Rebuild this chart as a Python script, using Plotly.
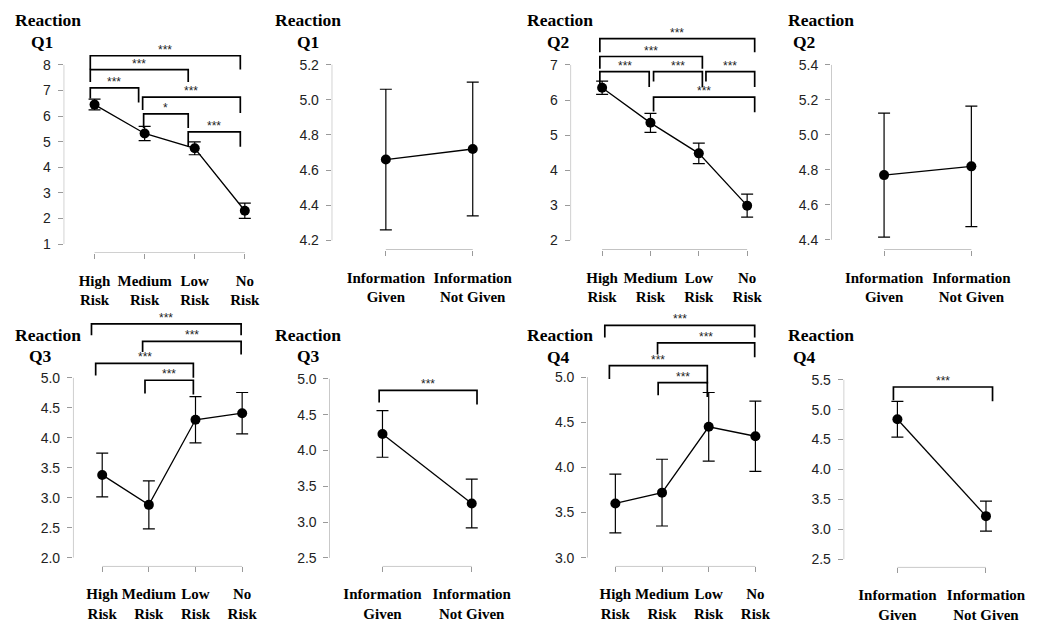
import plotly.graph_objects as go

W, H = 1050, 623

# ---------------- data ----------------
risk_labels = ["High<br>Risk", "Medium<br>Risk", "Low<br>Risk", "No<br>Risk"]
info_labels = ["Information<br>Given", "Information<br>Not Given"]

q1_risk_mean = [6.45, 5.32, 4.74, 2.30]
q1_risk_ci = [0.21, 0.28, 0.25, 0.30]
q1_info_mean = [4.66, 4.72]
q1_info_ci = [0.40, 0.38]

q2_risk_mean = [6.35, 5.35, 4.48, 2.99]
q2_risk_ci = [0.19, 0.27, 0.29, 0.33]
q2_info_mean = [4.77, 4.82]
q2_info_ci = [0.355, 0.345]

q3_risk_mean = [3.38, 2.88, 4.30, 4.41]
q3_risk_ci = [0.365, 0.40, 0.385, 0.345]
q3_info_mean = [4.23, 3.26]
q3_info_ci = [0.325, 0.34]

q4_risk_mean = [3.60, 3.72, 4.45, 4.345]
q4_risk_ci = [0.325, 0.37, 0.38, 0.39]
q4_info_mean = [4.84, 3.22]
q4_info_ci = [0.30, 0.25]

q1_risk_ticks = [1, 2, 3, 4, 5, 6, 7, 8]
q1_info_ticks = [4.2, 4.4, 4.6, 4.8, 5.0, 5.2]
q2_risk_ticks = [2, 3, 4, 5, 6, 7]
q2_info_ticks = [4.4, 4.6, 4.8, 5.0, 5.2, 5.4]
q3_risk_ticks = [2.0, 2.5, 3.0, 3.5, 4.0, 4.5, 5.0]
q3_info_ticks = [2.5, 3.0, 3.5, 4.0, 4.5, 5.0]
q4_risk_ticks = [3.0, 3.5, 4.0, 4.5, 5.0]
q4_info_ticks = [2.5, 3.0, 3.5, 4.0, 4.5, 5.0, 5.5]

# significance brackets: (left end, right end [category units], top, left leg end, right leg end, label)
q1_risk_brackets = [
    (-0.085, 2.91, 8.36, 7.82, 7.82, "***"),
    (-0.085, 1.87, 7.82, 7.33, 7.33, "***"),
    (-0.085, 0.88, 7.10, 6.69, 6.53, "***"),
    (0.96, 2.91, 6.74, 6.24, 6.12, "***"),
    (0.98, 1.87, 6.09, 5.54, 5.54, "*"),
    (1.87, 2.91, 5.38, 4.80, 4.80, "***"),
]
q2_risk_brackets = [
    (-0.047, 3.156, 7.75, 7.36, 7.36, "***"),
    (-0.047, 2.074, 7.24, 6.89, 6.89, "***"),
    (-0.047, 0.974, 6.81, 6.37, 6.37, "***"),
    (1.064, 2.074, 6.81, 6.53, 6.37, "***"),
    (2.148, 3.156, 6.81, 6.53, 6.37, "***"),
    (1.064, 3.156, 6.08, 5.67, 5.65, "***"),
]
q3_risk_brackets = [
    (-0.23, 2.978, 5.90, 5.71, 5.71, "***"),
    (0.866, 2.978, 5.61, 5.43, 5.39, "***"),
    (-0.14, 1.954, 5.24, 5.04, 5.00, "***"),
    (0.917, 1.954, 4.96, 4.74, 4.72, "***"),
]
q3_info_brackets = [(-0.037, 1.059, 4.84, 4.67, 4.64, "***")]
q4_risk_brackets = [
    (-0.226, 2.985, 5.574, 5.44, 5.44, "***"),
    (0.904, 2.985, 5.38, 5.25, 5.22, "***"),
    (-0.128, 1.97, 5.127, 4.98, 4.93, "***"),
    (0.917, 1.97, 4.94, 4.80, 4.78, "***"),
]
q4_info_brackets = [(-0.045, 1.074, 5.38, 5.16, 5.14, "***")]

# ---------------- layout of panels (pixels) ----------------
# box = (left, right, top, bottom); cal = (first category px, category spacing px,
#        px of top tick, px of bottom tick); title = (Reaction x, y, Q x, y)
panels = [
    dict(q="Q1", cats=risk_labels, mean=q1_risk_mean, ci=q1_risk_ci, ticks=q1_risk_ticks, fmt="{:.0f}",
         br=q1_risk_brackets, box=(64, 268, 40, 257), cal=(95, 50.33, 66, 248), title=(48.5, 20, 42.5, 43)),
    dict(q="Q1", cats=info_labels, mean=q1_info_mean, ci=q1_info_ci, ticks=q1_info_ticks, fmt="{:.1f}",
         br=[], box=(333.3, 510, 55, 254), cal=(387.7, 87.3, 65.7, 244.3), title=(309.7, 20, 309, 43)),
    dict(q="Q2", cats=risk_labels, mean=q2_risk_mean, ci=q2_risk_ci, ticks=q2_risk_ticks, fmt="{:.0f}",
         br=q2_risk_brackets, box=(573.3, 775, 25, 254), cal=(605, 48.57, 66, 244.3), title=(563, 20, 561, 43)),
    dict(q="Q2", cats=info_labels, mean=q2_info_mean, ci=q2_info_ci, ticks=q2_info_ticks, fmt="{:.1f}",
         br=[], box=(835, 1030, 55, 254), cal=(888.3, 87.7, 66, 243.7), title=(825, 20, 808, 43)),
    dict(q="Q3", cats=risk_labels, mean=q3_risk_mean, ci=q3_risk_ci, ticks=q3_risk_ticks, fmt="{:.1f}",
         br=q3_risk_brackets, box=(73.3, 268, 315, 575.7), cal=(102.7, 46.87, 384, 566.7), title=(48, 340, 41, 362)),
    dict(q="Q3", cats=info_labels, mean=q3_info_mean, ci=q3_info_ci, ticks=q3_info_ticks, fmt="{:.1f}",
         br=q3_info_brackets, box=(331, 510, 370, 575.7), cal=(384.3, 89.7, 385, 567), title=(309.7, 340, 310, 362)),
    dict(q="Q4", cats=risk_labels, mean=q4_risk_mean, ci=q4_risk_ci, ticks=q4_risk_ticks, fmt="{:.1f}",
         br=q4_risk_brackets, box=(590, 780, 315, 575.7), cal=(618.3, 46.9, 383.3, 566.7), title=(563, 340, 561, 363)),
    dict(q="Q4", cats=info_labels, mean=q4_info_mean, ci=q4_info_ci, ticks=q4_info_ticks, fmt="{:.1f}",
         br=q4_info_brackets, box=(847.7, 1040, 370, 576.7), cal=(901.7, 89, 386, 568.3), title=(825, 340, 808, 363)),
]

AXIS_GREY = "#9a9a9a"
TEXT_DARK = "#222222"
SERIF = "Liberation Serif, Times New Roman, DejaVu Serif, serif"
SANS = "Liberation Sans, Arial, sans-serif"

fig = go.Figure()
annotations = []
layout_axes = {}

for k, p in enumerate(panels, start=1):
    xa = "x" if k == 1 else f"x{k}"
    ya = "y" if k == 1 else f"y{k}"
    left, right, top, bottom = p["box"]
    c0, s, tmax_px, tmin_px = p["cal"]
    tmin, tmax = min(p["ticks"]), max(p["ticks"])
    ppu = (tmin_px - tmax_px) / (tmax - tmin)
    y0 = tmin - (bottom - tmin_px) / ppu
    y1 = tmax + (tmax_px - top) / ppu
    x0 = (left - c0) / s
    x1 = (right - c0) / s
    n = len(p["cats"])
    idx = list(range(n))

    # axis lines in R style (from first to last tick)
    fig.add_trace(go.Scatter(x=[x0, x0], y=[tmin, tmax], xaxis=xa, yaxis=ya, mode="lines",
                             line=dict(color=AXIS_GREY, width=1), cliponaxis=False,
                             hoverinfo="skip", showlegend=False))
    fig.add_trace(go.Scatter(x=[0, n - 1], y=[y0, y0], xaxis=xa, yaxis=ya, mode="lines",
                             line=dict(color=AXIS_GREY, width=1), cliponaxis=False,
                             hoverinfo="skip", showlegend=False))

    # brackets
    for (bl, brt, btop, byl, byr, lab) in p["br"]:
        fig.add_trace(go.Scatter(x=[bl, bl, brt, brt], y=[byl, btop, btop, byr], xaxis=xa, yaxis=ya,
                                 mode="lines", line=dict(color="black", width=1.7),
                                 cliponaxis=False, hoverinfo="skip", showlegend=False))
        annotations.append(dict(x=(bl + brt) / 2, y=btop, xref=xa, yref=ya, text=lab, showarrow=False,
                                xanchor="center", yanchor="bottom", yshift=-3,
                                font=dict(family=SANS, size=12, color=TEXT_DARK)))

    # means with CI
    fig.add_trace(go.Scatter(x=idx, y=p["mean"], xaxis=xa, yaxis=ya, mode="lines+markers",
                             line=dict(color="black", width=1.3),
                             marker=dict(color="black", size=10),
                             error_y=dict(type="data", array=p["ci"], color="black", thickness=1.2, width=6),
                             cliponaxis=False, showlegend=False))

    axkey_x = "xaxis" if k == 1 else f"xaxis{k}"
    axkey_y = "yaxis" if k == 1 else f"yaxis{k}"
    layout_axes[axkey_x] = dict(domain=[left / W, right / W], range=[x0, x1], anchor=ya,
                                showgrid=False, zeroline=False, showline=False,
                                ticks="outside", ticklen=5, tickwidth=1, tickcolor=AXIS_GREY,
                                tickvals=idx, ticktext=["<b>" + c + "</b>" for c in p["cats"]],
                                ticklabelstandoff=9,
                                tickfont=dict(family=SERIF, size=15, color="black"),
                                fixedrange=True)
    layout_axes[axkey_y] = dict(domain=[1 - bottom / H, 1 - top / H], range=[y0, y1], anchor=xa,
                                showgrid=False, zeroline=False, showline=False,
                                ticks="outside", ticklen=5, tickwidth=1, tickcolor=AXIS_GREY,
                                tickvals=p["ticks"], ticktext=[p["fmt"].format(v) for v in p["ticks"]],
                                ticklabelstandoff=4,
                                tickfont=dict(family=SANS, size=14, color=TEXT_DARK),
                                fixedrange=True)

    rx, ry, qx, qy = p["title"]
    annotations.append(dict(x=rx / W, y=1 - ry / H, xref="paper", yref="paper", text="<b>Reaction</b>",
                            showarrow=False, xanchor="center", yanchor="middle",
                            font=dict(family=SERIF, size=17.5, color="black")))
    annotations.append(dict(x=qx / W, y=1 - qy / H, xref="paper", yref="paper", text="<b>" + p["q"] + "</b>",
                            showarrow=False, xanchor="center", yanchor="middle",
                            font=dict(family=SERIF, size=17.5, color="black")))

fig.update_layout(width=W, height=H, margin=dict(l=0, r=0, t=0, b=0), autosize=False,
                  paper_bgcolor="white", plot_bgcolor="rgba(0,0,0,0)",
                  showlegend=False, annotations=annotations, **layout_axes)

fig.write_html("out.html")
